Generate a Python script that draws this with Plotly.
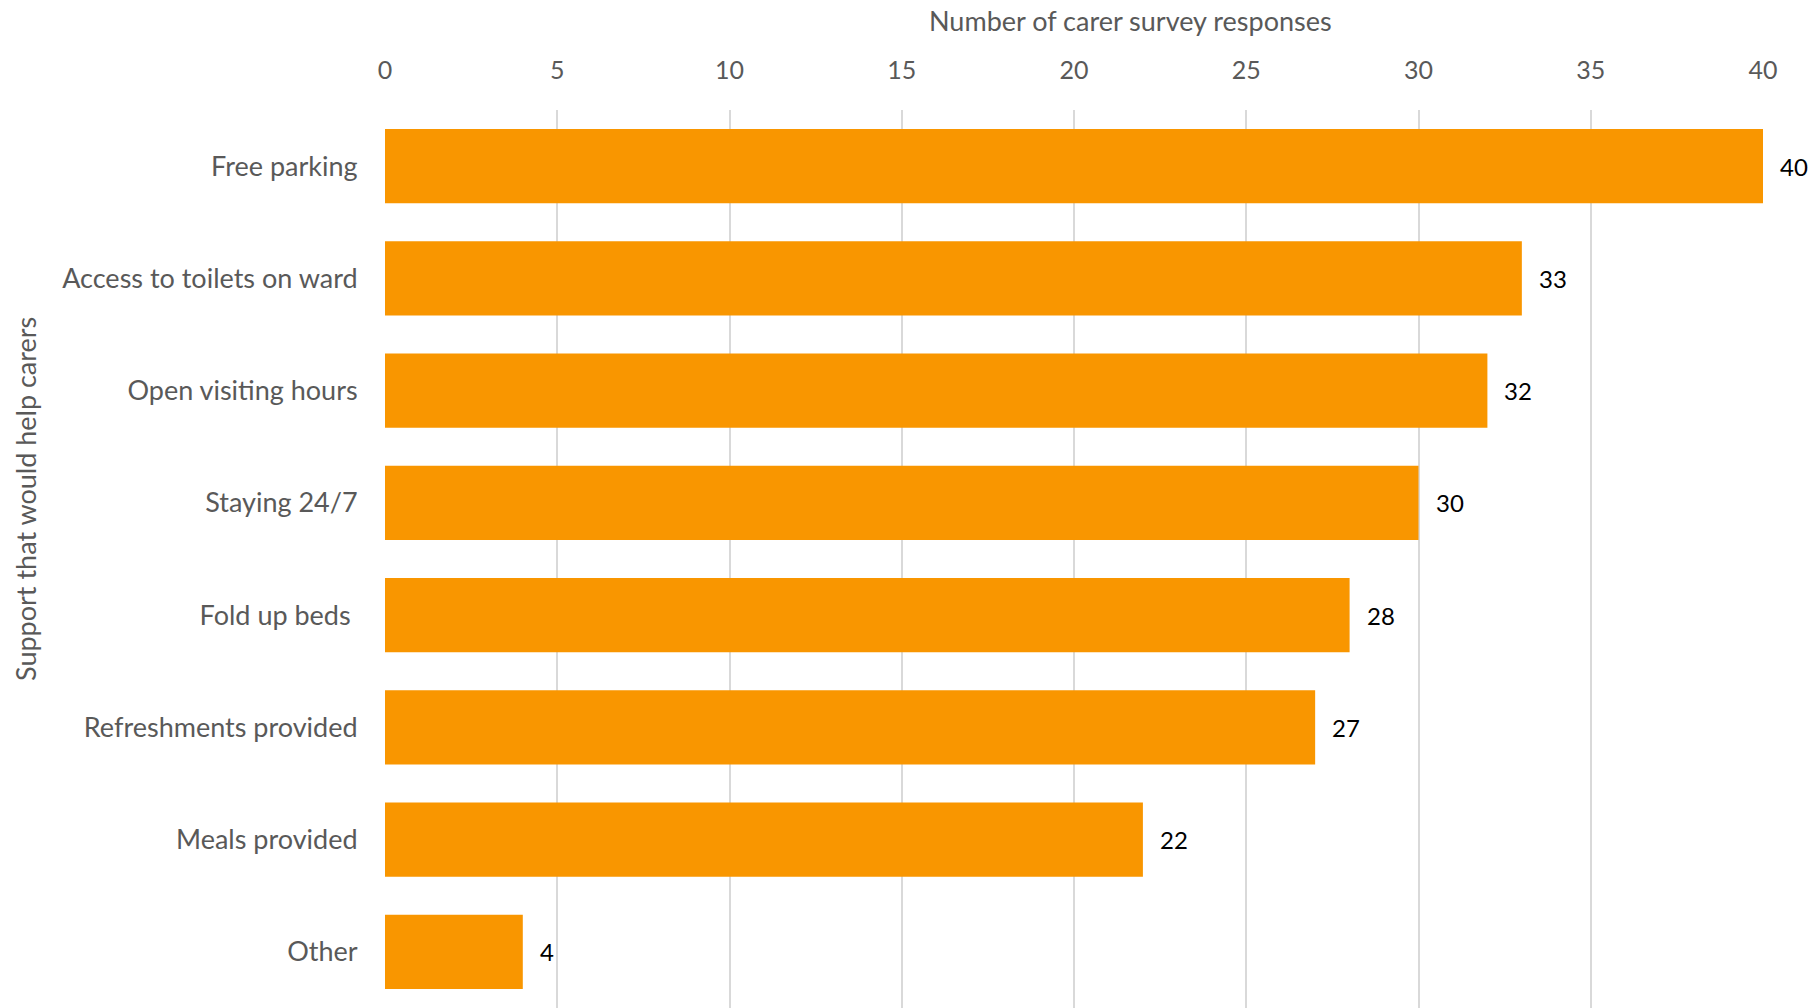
import plotly.graph_objects as go

# Survey results: support that would help carers
categories = [
    "Free parking",
    "Access to toilets on ward",
    "Open visiting hours",
    "Staying 24/7",
    "Fold up beds\u00a0",
    "Refreshments provided",
    "Meals provided",
    "Other",
]
responses = [40, 33, 32, 30, 28, 27, 22, 4]
x_ticks = [0, 5, 10, 15, 20, 25, 30, 35, 40]

BAR = "#F99600"
GREY = "#595959"
FONT = "Lato"

fig = go.Figure(
    go.Bar(
        x=responses,
        y=categories,
        orientation="h",
        marker=dict(color=BAR, line=dict(width=0)),
        hoverinfo="x+y",
    )
)

# value labels just beyond the bar ends
for cat, val in zip(categories, responses):
    fig.add_annotation(
        x=val, y=cat, text=str(val), showarrow=False,
        xanchor="left", xshift=15,
        font=dict(family=FONT, size=24, color="#000000"),
    )

# axis titles (positions given in pixels, converted below)
fig.add_annotation(
    x=1130, y=21, xref="paper", yref="paper", text="Number of carer survey responses",
    showarrow=False, xanchor="center", yanchor="middle",
    font=dict(family=FONT, size=27, color=GREY),
)
fig.add_annotation(
    x=25, y=499, xref="paper", yref="paper", text="Support that would help carers",
    showarrow=False, textangle=-90, xanchor="center", yanchor="middle",
    font=dict(family=FONT, size=27, color=GREY),
)

W, H = 1820, 1008
L, R, T, B = 385, 57, 110, 0
for ann in fig.layout.annotations:
    if ann.xref == "paper":
        ann.x = (ann.x - L) / (W - L - R)
        ann.y = 1 - (ann.y - T) / (H - T - B)

fig.update_layout(
    width=W, height=H,
    margin=dict(l=L, r=R, t=T, b=B, pad=0),
    plot_bgcolor="white", paper_bgcolor="white",
    bargap=0.34,
    showlegend=False,
    font=dict(family=FONT, color=GREY),
)
fig.update_xaxes(
    side="top", range=[0, 40], tickvals=x_ticks,
    showgrid=True, gridcolor="#D9D9D9", gridwidth=1.5,
    zeroline=False, showline=False,
    ticks="outside", ticklen=20, tickcolor="rgba(0,0,0,0)",
    tickfont=dict(family=FONT, size=25, color=GREY),
)
fig.update_yaxes(
    autorange="reversed", showgrid=False, zeroline=False, showline=False,
    ticks="outside", ticklen=21, tickcolor="rgba(0,0,0,0)",
    tickfont=dict(family=FONT, size=27, color=GREY),
)

fig.write_html("out.html")
